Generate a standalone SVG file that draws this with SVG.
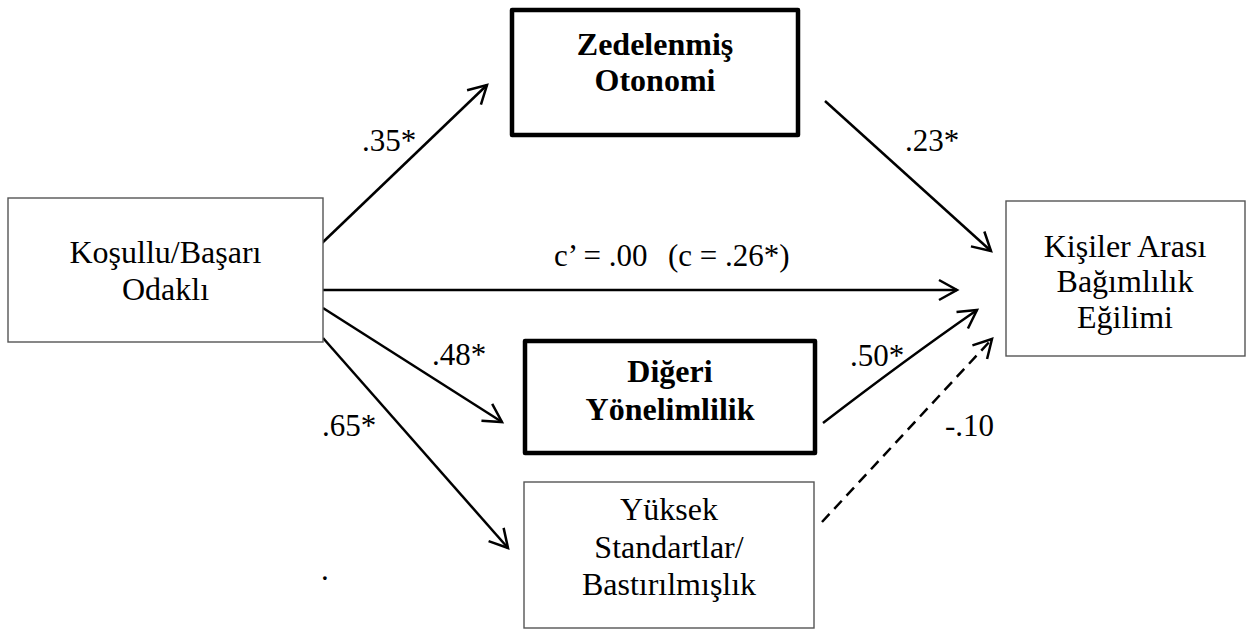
<svg xmlns="http://www.w3.org/2000/svg" width="1247" height="630" viewBox="0 0 1247 630">
<style>
.bg{fill:#ffffff}
.thin{fill:#ffffff;stroke:#555555;stroke-width:1.4}
.thick{fill:#ffffff;stroke:#000000;stroke-width:4.5;stroke-linejoin:round}
.t{font-family:"Liberation Serif","Times New Roman",serif;font-size:32px;fill:#000;text-anchor:middle}
.b{font-weight:bold}
.lbl{font-family:"Liberation Serif","Times New Roman",serif;font-size:31px;fill:#000}
.c{fill:none;stroke:#000;stroke-width:2.5}
.d{stroke-dasharray:11 7}
</style>
<defs>
<marker id="ah" markerUnits="userSpaceOnUse" markerWidth="30" markerHeight="30" viewBox="-22 -15 26 30" refX="0" refY="0" orient="auto">
<path d="M-18,-10 L0,0 L-18,10" fill="none" stroke="#000" stroke-width="2.5" stroke-linejoin="miter"/>
</marker>
</defs>
<rect class="bg" x="0" y="0" width="1247" height="630"/>
<g id="connectors">
<line class="c" x1="321" y1="244" x2="487" y2="85" marker-end="url(#ah)"/>
<line class="c" x1="825" y1="101" x2="991" y2="251" marker-end="url(#ah)"/>
<line class="c" x1="323" y1="290" x2="957" y2="290" marker-end="url(#ah)"/>
<line class="c" x1="323" y1="308" x2="502" y2="422" marker-end="url(#ah)"/>
<line class="c" x1="323" y1="338" x2="508" y2="548" marker-end="url(#ah)"/>
<path class="c" d="M823,423 Q905,360 977,310" marker-end="url(#ah)"/>
<line class="c d" x1="822" y1="522" x2="992" y2="339" marker-end="url(#ah)"/>
</g>
<g id="labels">
<text class="lbl" x="362" y="151">.35*</text>
<text class="lbl" x="905" y="151">.23*</text>
<text class="lbl" x="554" y="266">c’ = .00</text>
<text class="lbl" x="668" y="266">(c = .26*)</text>
<text class="lbl" x="432" y="365">.48*</text>
<text class="lbl" x="322" y="436">.65*</text>
<text class="lbl" x="850" y="366">.50*</text>
<text class="lbl" x="945" y="436">-.10</text>
<text class="lbl" x="321" y="580">.</text>
</g>
<g id="node-kosullu">
<rect class="thin" x="8" y="198" width="315" height="144"/>
<text class="t" x="165.5" y="263">Koşullu/Başarı</text>
<text class="t" x="165.5" y="300">Odaklı</text>
</g>
<g id="node-zedelenmis">
<rect class="thick" x="512" y="10" width="286" height="125"/>
<text class="t b" x="655" y="55">Zedelenmiş</text>
<text class="t b" x="655" y="91">Otonomi</text>
</g>
<g id="node-digeri">
<rect class="thick" x="525" y="341" width="290" height="112"/>
<text class="t b" x="670" y="382">Diğeri</text>
<text class="t b" x="670" y="420">Yönelimlilik</text>
</g>
<g id="node-yuksek">
<rect class="thin" x="524" y="482" width="290" height="146"/>
<text class="t" x="669" y="520">Yüksek</text>
<text class="t" x="669" y="558">Standartlar/</text>
<text class="t" x="669" y="595">Bastırılmışlık</text>
</g>
<g id="node-kisiler">
<rect class="thin" x="1006" y="201" width="239" height="155"/>
<text class="t" x="1125" y="257">Kişiler Arası</text>
<text class="t" x="1125" y="292">Bağımlılık</text>
<text class="t" x="1125" y="328">Eğilimi</text>
</g>
</svg>
